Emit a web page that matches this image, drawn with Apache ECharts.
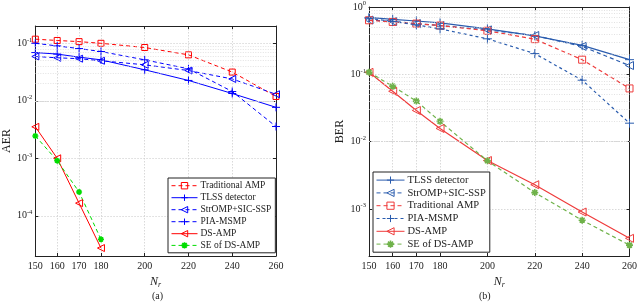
<!DOCTYPE html>
<html><head><meta charset="utf-8">
<script src="https://cdn.jsdelivr.net/npm/echarts@6/dist/echarts.min.js"></script>
<style>html,body{margin:0;padding:0;background:#fff}#c{width:640px;height:304px}</style>
</head><body><div id="c"></div>
<script>
// ---------- data ----------
var nr = [150, 160, 170, 180, 200, 220, 240, 260];
var xTicks = [150, 160, 170, 180, 200, 220, 240, 260];
var yTicksA = [1e-4, 1e-3, 1e-2, 1e-1];
var yTicksB = [1e-3, 1e-2, 1e-1, 1];

// (a) AER
var aerTradAMP = [0.118, 0.112, 0.107, 0.100, 0.0845, 0.063, 0.0316, 0.0119];
var aerTLSS    = [0.069, 0.065, 0.0575, 0.0516, 0.0346, 0.0226, 0.0134, 0.0077];
var aerStrOMP  = [0.059, 0.056, 0.054, 0.0497, 0.0423, 0.0336, 0.024, 0.013];
var aerPIA     = [0.100, 0.090, 0.081, 0.072, 0.0516, 0.036, 0.0145, 0.00357];
var aerDSAMP   = [0.00353, 0.0010, 1.66e-4, 2.75e-5];
var aerSE      = [0.00245, 9.1e-4, 2.6e-4, 3.9e-5];

// (b) BER
var berTLSS    = [0.70, 0.656, 0.62, 0.58, 0.473, 0.373, 0.269, 0.165];
var berStrOMP  = [0.64, 0.61, 0.567, 0.53, 0.457, 0.377, 0.26, 0.135];
var berTradAMP = [0.635, 0.60, 0.567, 0.53, 0.443, 0.333, 0.165, 0.0617];
var berPIA     = [0.68, 0.61, 0.542, 0.473, 0.337, 0.203, 0.0818, 0.0188];
var berDSAMP   = [0.107, 0.056, 0.029, 0.0157, 0.00524, 0.00229, 9.0e-4, 3.66e-4];
var berSE      = [0.107, 0.0667, 0.040, 0.020, 0.0052, 0.00175, 6.8e-4, 2.9e-4];

// ---------- styles ----------
var FONT = '"Liberation Serif","Times New Roman",serif';
var SYM = {
  plus: 'path://M5,0L5,10M0,5L10,5',
  tri: 'path://M0,5L10,0L10,10Z',
  sq: 'path://M0,0L10,0L10,10L0,10Z',
  star: 'path://M5,0L5,10M0,5L10,5M1.5,1.5L8.5,8.5M1.5,8.5L8.5,1.5'
};
var A = {blue: '#0000ff', red: '#ff0000', green: '#00dd00'};
var B = {blue: '#2a5cae', red: '#ef3b3b', green: '#6fb24a'};

function pairs(xs, ys) { return ys.map(function (v, i) { return [xs[i], v]; }); }
function isDecade(v) { var l = Math.log10(v); return Math.abs(l - Math.round(l)) < 1e-6; }
function decadeLabel(v) {
  if (!isDecade(v)) return '';
  return '10{s|' + Math.round(Math.log10(v)) + '}';
}
function minorValues(lo, hi) {
  var out = [];
  for (var e = Math.floor(Math.log10(lo)); e <= Math.ceil(Math.log10(hi)); e++) {
    for (var m = 2; m <= 9; m++) {
      var v = m * Math.pow(10, e);
      if (v > lo * 1.0001 && v < hi * 0.9999) out.push({yAxis: v});
    }
  }
  return out;
}

function mkSeries(name, xs, ys, color, sym, dash, xi, yi, size, width, extra) {
  var s = {
    type: 'line', name: name, data: pairs(xs, ys),
    xAxisIndex: xi, yAxisIndex: yi,
    symbol: SYM[sym], symbolSize: size,
    showAllSymbol: true,
    lineStyle: {color: color, width: width, type: dash},
    itemStyle: {color: (sym === 'star') ? color : 'none', borderColor: color, borderWidth: sym === 'star' ? 1.6 : 1},
    emphasis: {disabled: true},
    z: 3
  };
  if (extra) s.markLine = extra;
  return s;
}
function minorGrid(lo, hi) {
  return {
    silent: true, symbol: ['none', 'none'], animation: false,
    label: {show: false},
    lineStyle: {color: '#d6d6d6', type: [1, 1.5], width: 0.7},
    data: minorValues(lo, hi)
  };
}

var DASH = [4, 3];
var series = [
  mkSeries('Traditional AMP', nr, aerTradAMP, A.red, 'sq', DASH, 0, 0, 6, 1, minorGrid(2e-5, 0.2)),
  mkSeries('TLSS detector', nr, aerTLSS, A.blue, 'plus', 'solid', 0, 0, 8, 1),
  mkSeries('StrOMP+SIC-SSP', nr, aerStrOMP, A.blue, 'tri', DASH, 0, 0, 7, 1),
  mkSeries('PIA-MSMP', nr, aerPIA, A.blue, 'plus', DASH, 0, 0, 8, 1),
  mkSeries('DS-AMP', nr, aerDSAMP, A.red, 'tri', 'solid', 0, 0, 7, 1),
  mkSeries('SE of DS-AMP', nr, aerSE, A.green, 'star', DASH, 0, 0, 6, 1),

  mkSeries('TLSS detector', nr, berTLSS, B.blue, 'plus', 'solid', 2, 2, 9, 1.2, minorGrid(2e-4, 1)),
  mkSeries('StrOMP+SIC-SSP', nr, berStrOMP, B.blue, 'tri', DASH, 2, 2, 8, 1.2),
  mkSeries('Traditional AMP', nr, berTradAMP, B.red, 'sq', DASH, 2, 2, 7, 1.2),
  mkSeries('PIA-MSMP', nr, berPIA, B.blue, 'plus', [3, 3], 2, 2, 9, 1.2),
  mkSeries('DS-AMP', nr, berDSAMP, B.red, 'tri', 'solid', 2, 2, 8, 1.2),
  mkSeries('SE of DS-AMP', nr, berSE, B.green, 'star', DASH, 2, 2, 7, 1.2)
];

function legendItem(name, color, sym, dash) {
  return {
    name: name,
    itemStyle: {color: sym === 'star' ? color : 'none', borderColor: color, borderWidth: sym === 'star' ? 1.6 : 1},
    lineStyle: {color: color, type: dash, width: 1}
  };
}

function xAxisDef(grid, show) {
  return {
    type: 'value', gridIndex: grid, min: 150, max: 260,
    position: show ? 'bottom' : 'top',
    axisLine: {show: true, onZero: false, lineStyle: {color: '#222', width: 1}},
    axisTick: {show: true, inside: true, length: 3, customValues: xTicks, lineStyle: {color: '#222'}},
    axisLabel: {show: show, customValues: xTicks, color: '#222', fontFamily: FONT, fontSize: 10, margin: 5},
    splitLine: {show: show, lineStyle: {color: '#cfcfcf', type: [1.5, 1.5], width: 0.8}},
    name: show ? '{n|N}{r|r}' : '', nameLocation: 'middle', nameGap: 19,
    nameTextStyle: {rich: {
      n: {fontFamily: FONT, fontStyle: 'italic', fontSize: 12, color: '#222'},
      r: {fontFamily: FONT, fontStyle: 'italic', fontSize: 8, color: '#222', padding: [6, 0, 0, 0]}
    }}
  };
}
function yAxisDef(grid, lo, hi, show, name, gap) {
  return {
    type: 'log', logBase: 10, gridIndex: grid, min: lo, max: hi,
    position: show ? 'left' : 'right',
    axisLine: {show: true, lineStyle: {color: '#222', width: 1}},
    axisTick: {show: true, inside: true, length: 3, lineStyle: {color: '#222'}},
    axisLabel: {show: show, color: '#222', fontFamily: FONT, fontSize: 10, margin: 3,
      formatter: decadeLabel,
      rich: {s: {fontFamily: FONT, fontSize: 6.5, color: '#222', padding: [0, 0, 7, 0]}}},
    splitLine: {show: show, lineStyle: {color: '#cfcfcf', type: [1.5, 1.5], width: 0.8}},
    name: show ? name : '', nameLocation: 'middle', nameGap: gap,
    nameTextStyle: {fontFamily: FONT, fontSize: 12, color: '#222'}
  };
}

var option = {
  animation: false,
  backgroundColor: '#fff',
  grid: [
    {left: 35, top: 26, width: 241, height: 230},
    {left: 369, top: 5, width: 263, height: 251}
  ],
  xAxis: [xAxisDef(0, true), xAxisDef(0, false), xAxisDef(1, true), xAxisDef(1, false)],
  yAxis: [
    yAxisDef(0, 2e-5, 0.2, true, 'AER', 21), yAxisDef(0, 2e-5, 0.2, false, '', 0),
    yAxisDef(1, 2e-4, 1, true, 'BER', 23), yAxisDef(1, 2e-4, 1, false, '', 0)
  ],
  legend: [
    {
      left: 168, top: 178, orient: 'vertical', itemWidth: 26, itemHeight: 8, itemGap: 0.6,
      padding: [2, 4, 2, 3], borderColor: '#222', borderWidth: 1, backgroundColor: '#fff',
      textStyle: {fontFamily: FONT, fontSize: 9.5, lineHeight: 10.8, color: '#222', padding: [0, 0, 0, -2]},
      selectedMode: false,
      data: [
        legendItem('Traditional AMP', A.red, 'sq', DASH),
        legendItem('TLSS detector', A.blue, 'plus', 'solid'),
        legendItem('StrOMP+SIC-SSP', A.blue, 'tri', DASH),
        legendItem('PIA-MSMP', A.blue, 'plus', DASH),
        legendItem('DS-AMP', A.red, 'tri', 'solid'),
        legendItem('SE of DS-AMP', A.green, 'star', DASH)
      ]
    },
    {
      left: 373, top: 172, orient: 'vertical', itemWidth: 28, itemHeight: 9, itemGap: 0.6,
      padding: [2, 4, 2, 3], borderColor: '#222', borderWidth: 1, backgroundColor: '#fff',
      textStyle: {fontFamily: FONT, fontSize: 10.5, lineHeight: 12.2, color: '#222', padding: [0, 0, 0, -2]},
      selectedMode: false,
      data: [
        legendItem('TLSS detector', B.blue, 'plus', 'solid'),
        legendItem('StrOMP+SIC-SSP', B.blue, 'tri', DASH),
        legendItem('Traditional AMP', B.red, 'sq', DASH),
        legendItem('PIA-MSMP', B.blue, 'plus', [3, 3]),
        legendItem('DS-AMP', B.red, 'tri', 'solid'),
        legendItem('SE of DS-AMP', B.green, 'star', DASH)
      ]
    }
  ],
  graphic: [
    {type: 'text', left: 152, top: 291, style: {text: '(a)', font: '10px ' + FONT, fill: '#222'}},
    {type: 'text', left: 479, top: 291, style: {text: '(b)', font: '10px ' + FONT, fill: '#222'}}
  ],
  series: series
};

var chart = echarts.init(document.getElementById('c'), null, {renderer: 'canvas'});
chart.setOption(option);
</script>
</body></html>
